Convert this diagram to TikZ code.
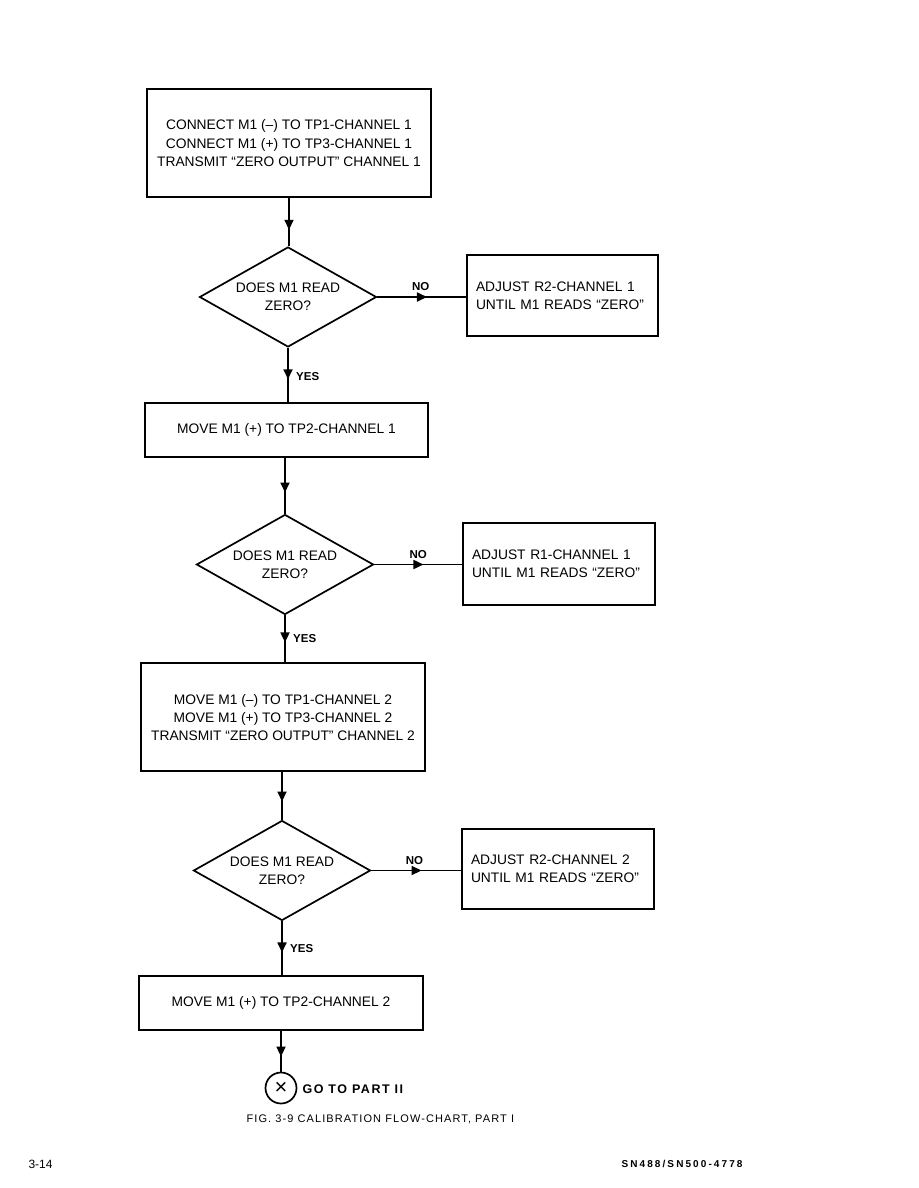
\documentclass[tikz,border=0pt]{standalone}
\usepackage{fontspec}
\setmainfont{Liberation Sans}
\usetikzlibrary{shapes.geometric,decorations.markings,arrows.meta}
\begin{document}
\begin{tikzpicture}[x=1pt,y=-1pt,
  txt/.style={font=\fontsize{13.8}{18}\selectfont},
  box/.style={draw,line width=2pt,rectangle,inner sep=0pt,align=center,txt},
  sidebox/.style={draw,line width=2pt,rectangle,inner xsep=9pt,inner ysep=0pt,align=left,txt},
  dia/.style={draw,line width=1.7pt,diamond,inner sep=0pt,minimum width=177pt,minimum height=100pt},
  lab/.style={font=\bfseries\fontsize{11.5}{12}\selectfont},
  flow/.style={line width=1.7pt,postaction={decorate},
    decoration={markings,mark=at position #1 with {\arrow{Triangle[length=10pt,width=9pt]}}}},
  flow/.default=0.6]
\path[use as bounding box,fill=white] (0,0) rectangle (918,1188);

% boxes
\node[box,minimum width=284pt,minimum height=108pt,text depth=-2pt] (b1) at (289,143)
  {CONNECT M1 (–) TO TP1-CHANNEL 1\\CONNECT M1 (+) TO TP3-CHANNEL 1\\TRANSMIT “ZERO OUTPUT” CHANNEL 1};
\node[dia,label={[align=center,txt]center:DOES M1 READ\\ZERO?}] (d1) at (288,297) {};
\node[sidebox,minimum width=191pt,minimum height=81pt,text width=173pt] (a1) at (562.5,295.5)
  {ADJUST R2-CHANNEL 1\\UNTIL M1 READS “ZERO”};
\node[box,minimum width=283pt,minimum height=54pt] (b2) at (286.5,430)
  {MOVE M1 (+) TO TP2-CHANNEL 1};
\node[dia,label={[align=center,txt]center:DOES M1 READ\\ZERO?}] (d2) at (285,564.5) {};
\node[sidebox,minimum width=192pt,minimum height=82pt,text width=174pt] (a2) at (559,564)
  {ADJUST R1-CHANNEL 1\\UNTIL M1 READS “ZERO”};
\node[box,minimum width=284pt,minimum height=108pt,text depth=-2pt] (b3) at (283,717)
  {MOVE M1 (–) TO TP1-CHANNEL 2\\MOVE M1 (+) TO TP3-CHANNEL 2\\TRANSMIT “ZERO OUTPUT” CHANNEL 2};
\node[dia,label={[align=center,txt]center:DOES M1 READ\\ZERO?}] (d3) at (282,870.5) {};
\node[sidebox,minimum width=192pt,minimum height=80pt,text width=174pt] (a3) at (558,869)
  {ADJUST R2-CHANNEL 2\\UNTIL M1 READS “ZERO”};
\node[box,minimum width=284pt,minimum height=54pt] (b4) at (281,1003)
  {MOVE M1 (+) TO TP2-CHANNEL 2};
\node[draw,circle,line width=1.7pt,minimum size=31pt,inner sep=0pt,font=\fontsize{22}{22}\selectfont] (c) at (281,1088) {×};
\node[anchor=west,font=\bfseries\fontsize{12.5}{14}\selectfont\addfontfeatures{LetterSpace=12}] (go) at (299,1089) {GO TO PART II};

% connectors
\draw[flow=0.66] (b1.south) -- (b1.south |- d1.north);
\draw[flow=0.56] (d1.east) -- (d1.east -| a1.west) node[lab,pos=0.49,above=2pt] {NO};
\draw[flow=0.58] (d1.south) -- (d1.south |- b2.north) node[lab,pos=0.53,right=4pt] {YES};
\draw[flow=0.62] (d2.north |- b2.south) -- (d2.north);
\draw[flow=0.56] (d2.east) -- (d2.east -| a2.west) node[lab,pos=0.5,above=2pt] {NO};
\draw[flow=0.58] (d2.south) -- (d2.south |- b3.north) node[lab,pos=0.5,right=4pt] {YES};
\draw[flow=0.62] (d3.north |- b3.south) -- (d3.north);
\draw[flow=0.56] (d3.east) -- (d3.east -| a3.west) node[lab,pos=0.48,above=2pt] {NO};
\draw[flow=0.58] (d3.south) -- (d3.south |- b4.north) node[lab,pos=0.5,right=4pt] {YES};
\draw[flow=0.63] (b4.south) -- (b4.south |- c.north);

% caption and footer
\node[font=\fontsize{11}{12}\selectfont\addfontfeatures{LetterSpace=10},anchor=west] (cap) at (243,1119) {FIG. 3-9 CALIBRATION FLOW-CHART, PART I};
\node[font=\fontsize{12}{12}\selectfont,anchor=west] (pg) at (25,1164) {3-14};
\node[font=\bfseries\fontsize{10}{10}\selectfont\addfontfeatures{LetterSpace=21},anchor=west] (sn) at (618,1164) {SN488/SN500-4778};
\end{tikzpicture}
\end{document}
